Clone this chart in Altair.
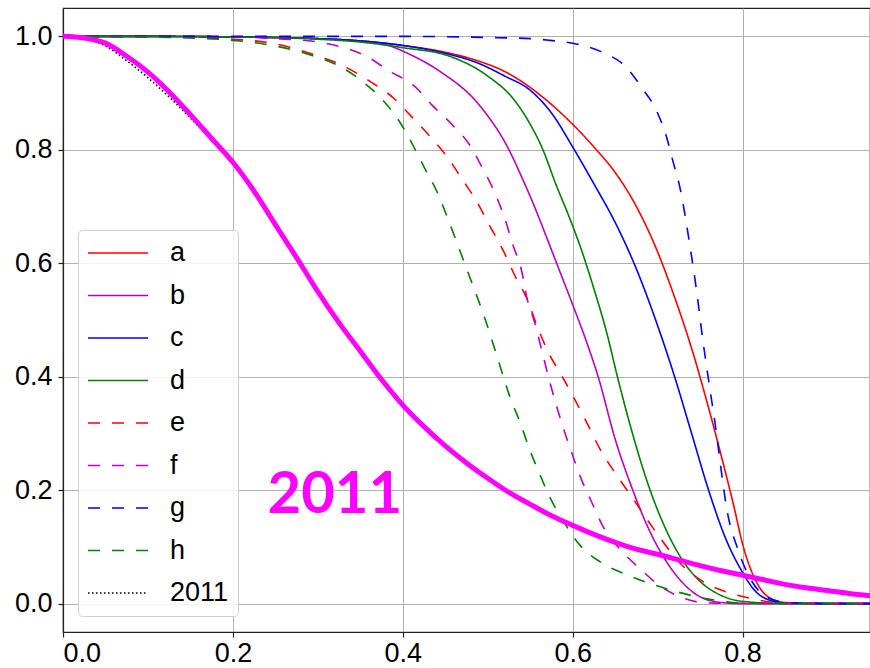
import altair as alt
import pandas as pd

# ---------------- data ----------------
x_a = [0, 0.1, 0.2, 0.3, 0.35, 0.4, 0.45, 0.49, 0.52, 0.55, 0.575, 0.6, 0.625, 0.65, 0.675, 0.7, 0.72, 0.74, 0.76, 0.775, 0.79, 0.8, 0.815, 0.83, 0.85, 0.9, 0.95]
y_a = [1.0, 1.0, 0.999, 0.996, 0.992, 0.984, 0.972, 0.956, 0.938, 0.91, 0.88, 0.845, 0.805, 0.76, 0.70, 0.62, 0.54, 0.45, 0.345, 0.26, 0.17, 0.105, 0.042, 0.012, 0.002, 0.0, 0.0]

x_b = [0, 0.1, 0.2, 0.3, 0.34, 0.376, 0.41, 0.445, 0.49, 0.525, 0.54, 0.555, 0.57, 0.585, 0.6, 0.615, 0.63, 0.65, 0.67, 0.69, 0.71, 0.73, 0.75, 0.775, 0.8, 0.95]
y_b = [1.0, 1.0, 0.999, 0.996, 0.993, 0.987, 0.967, 0.937, 0.879, 0.80, 0.752, 0.70, 0.643, 0.585, 0.527, 0.467, 0.40, 0.29, 0.203, 0.13, 0.075, 0.036, 0.012, 0.002, 0.0, 0.0]

x_c = [0, 0.1, 0.2, 0.3, 0.35, 0.4, 0.45, 0.49, 0.52, 0.55, 0.575, 0.6, 0.625, 0.65, 0.675, 0.7, 0.72, 0.74, 0.76, 0.78, 0.8, 0.815, 0.83, 0.85, 0.9, 0.95]
y_c = [1.0, 1.0, 0.999, 0.996, 0.992, 0.984, 0.97, 0.952, 0.93, 0.905, 0.865, 0.805, 0.74, 0.672, 0.59, 0.49, 0.40, 0.30, 0.20, 0.115, 0.055, 0.022, 0.007, 0.001, 0.0, 0.0]

x_d = [0, 0.1, 0.2, 0.3, 0.35, 0.4, 0.455, 0.5, 0.53, 0.55, 0.565, 0.58, 0.595, 0.61, 0.625, 0.64, 0.653, 0.67, 0.69, 0.71, 0.73, 0.75, 0.77, 0.8, 0.85, 0.95]
y_d = [1.0, 1.0, 0.999, 0.995, 0.99, 0.98, 0.965, 0.93, 0.89, 0.845, 0.80, 0.74, 0.685, 0.625, 0.555, 0.478, 0.398, 0.302, 0.205, 0.13, 0.075, 0.039, 0.018, 0.004, 0.0, 0.0]

x_e = [0, 0.05, 0.1, 0.15, 0.2, 0.25, 0.28, 0.335, 0.36, 0.39, 0.41, 0.43, 0.45, 0.47, 0.487, 0.502, 0.518, 0.532, 0.546, 0.558, 0.571, 0.587, 0.6, 0.616, 0.632, 0.652, 0.671, 0.7, 0.726, 0.758, 0.78, 0.81, 0.84, 0.95]
y_e = [1.0, 1.0, 0.999, 0.998, 0.995, 0.987, 0.975, 0.944, 0.922, 0.89, 0.859, 0.827, 0.792, 0.748, 0.709, 0.667, 0.623, 0.578, 0.538, 0.49, 0.444, 0.402, 0.367, 0.321, 0.273, 0.226, 0.185, 0.122, 0.072, 0.035, 0.021, 0.009, 0.002, 0.0]

x_f = [0, 0.1, 0.2, 0.25, 0.3, 0.326, 0.357, 0.385, 0.414, 0.435, 0.459, 0.479, 0.494, 0.506, 0.52, 0.53, 0.54, 0.546, 0.555, 0.563, 0.575, 0.588, 0.6, 0.61, 0.622, 0.635, 0.655, 0.679, 0.702, 0.73, 0.76, 0.95]
y_f = [1.0, 1.0, 0.999, 0.996, 0.99, 0.982, 0.965, 0.938, 0.912, 0.878, 0.843, 0.808, 0.767, 0.732, 0.679, 0.631, 0.586, 0.54, 0.497, 0.45, 0.38, 0.314, 0.261, 0.22, 0.18, 0.138, 0.097, 0.062, 0.032, 0.01, 0.001, 0.0]

x_g = [0, 0.1, 0.2, 0.3, 0.4, 0.5, 0.55, 0.573, 0.6, 0.632, 0.664, 0.682, 0.699, 0.711, 0.718, 0.726, 0.738, 0.746, 0.753, 0.761, 0.769, 0.775, 0.782, 0.793, 0.805, 0.82, 0.84, 0.86, 0.95]
y_g = [1.0, 1.0, 1.0, 1.0, 1.0, 0.998, 0.996, 0.993, 0.988, 0.974, 0.944, 0.908, 0.868, 0.82, 0.78, 0.735, 0.631, 0.55, 0.467, 0.384, 0.303, 0.233, 0.162, 0.102, 0.056, 0.021, 0.005, 0.001, 0.0]

x_h = [0, 0.05, 0.1, 0.15, 0.2, 0.25, 0.294, 0.326, 0.353, 0.375, 0.396, 0.412, 0.426, 0.44, 0.453, 0.465, 0.475, 0.487, 0.498, 0.508, 0.518, 0.526, 0.538, 0.549, 0.561, 0.573, 0.588, 0.608, 0.632, 0.66, 0.69, 0.72, 0.76, 0.8, 0.95]
y_h = [1.0, 1.0, 0.999, 0.997, 0.993, 0.983, 0.966, 0.947, 0.92, 0.89, 0.85, 0.808, 0.767, 0.727, 0.679, 0.631, 0.591, 0.543, 0.497, 0.45, 0.402, 0.365, 0.32, 0.273, 0.229, 0.188, 0.148, 0.104, 0.074, 0.053, 0.036, 0.022, 0.008, 0.001, 0.0]

x_2011 = [0, 0.025, 0.05, 0.075, 0.1, 0.125, 0.15, 0.175, 0.2, 0.225, 0.25, 0.275, 0.3, 0.325, 0.35, 0.375, 0.4, 0.425, 0.45, 0.475, 0.5, 0.525, 0.55, 0.575, 0.6, 0.625, 0.65, 0.675, 0.7, 0.725, 0.75, 0.775, 0.8, 0.825, 0.85, 0.875, 0.9, 0.925, 0.95]
y_2011 = [1.0, 0.996, 0.983, 0.957, 0.927, 0.893, 0.856, 0.817, 0.776, 0.727, 0.668, 0.61, 0.55, 0.495, 0.445, 0.395, 0.35, 0.311, 0.277, 0.247, 0.22, 0.195, 0.174, 0.154, 0.136, 0.12, 0.106, 0.094, 0.085, 0.075, 0.066, 0.057, 0.049, 0.041, 0.034, 0.028, 0.023, 0.018, 0.014]

x_fit = [0, 0.025, 0.05, 0.075, 0.1, 0.125, 0.15, 0.175, 0.2, 0.225, 0.25, 0.275, 0.3, 0.325, 0.35, 0.375, 0.4, 0.425, 0.45, 0.475, 0.5, 0.525, 0.55, 0.575, 0.6, 0.625, 0.65, 0.675, 0.7, 0.725, 0.75, 0.775, 0.8, 0.825, 0.85, 0.875, 0.9, 0.925, 0.95]
y_fit = [1.0, 0.997, 0.988, 0.965, 0.937, 0.902, 0.862, 0.82, 0.778, 0.727, 0.668, 0.61, 0.55, 0.495, 0.445, 0.395, 0.35, 0.312, 0.278, 0.248, 0.221, 0.196, 0.175, 0.155, 0.138, 0.122, 0.108, 0.096, 0.087, 0.077, 0.067, 0.058, 0.05, 0.042, 0.034, 0.028, 0.023, 0.018, 0.014]

series_names = ["a", "b", "c", "d", "e", "f", "g", "h", "2011"]
series_colors = ["#ff0000", "#bf00bf", "#0000ff", "#008000",
                 "#ff0000", "#bf00bf", "#0000ff", "#008000", "#000000"]
series_dashes = [[1, 0], [1, 0], [1, 0], [1, 0],
                 [12, 12], [12, 12], [12, 12], [12, 12], [1.5, 2.5]]

label_text = ["2011"]
label_x = [0.32]
label_y = [0.16]

x_ticks = [0.0, 0.2, 0.4, 0.6, 0.8]
y_ticks = [0.0, 0.2, 0.4, 0.6, 0.8, 1.0]

# ---------------- tables ----------------
series_xy = [(x_a, y_a), (x_b, y_b), (x_c, y_c), (x_d, y_d), (x_e, y_e),
             (x_f, y_f), (x_g, y_g), (x_h, y_h), (x_2011, y_2011)]
rows = []
for name, (xs, ys) in zip(series_names, series_xy):
    for xv, yv in zip(xs, ys):
        rows.append({"x": xv, "y": yv, "series": name})
df = pd.DataFrame(rows)
fit_df = pd.DataFrame({"x": x_fit, "y": y_fit})
label_df = pd.DataFrame({"x": label_x, "y": label_y, "t": label_text})

FONT = "Liberation Sans"
xscale = alt.Scale(domain=[0, 0.95], nice=False, zero=False)
yscale = alt.Scale(domain=[-0.05, 1.05], nice=False, zero=False)

axis_style = dict(
    labelFont=FONT, labelFontSize=27, labelColor="black",
    tickColor="#222222", tickSize=5, tickWidth=1.2,
    domainColor="#222222", domainWidth=1.2,
    grid=True, gridColor="#b0b0b0", gridWidth=1,
    title=None,
)
xaxis = alt.Axis(values=x_ticks, format=".1f", labelPadding=3, **axis_style)
yaxis = alt.Axis(values=y_ticks, format=".1f", labelPadding=6, **axis_style)

legend_kw = dict(
    orient="none", legendX=15, legendY=222, title=None,
    symbolType="stroke", symbolSize=3600, symbolStrokeWidth=1.6,
    labelFont=FONT, labelFontSize=27, labelColor="black", labelOffset=21,
    padding=9, rowPadding=14.5, clipHeight=28,
    fillColor="rgba(255,255,255,0.85)",
    strokeColor="#d0d0d0", cornerRadius=4,
)

lines = alt.Chart(df).mark_line(strokeWidth=1.6, clip=True, interpolate="monotone").encode(
    x=alt.X("x:Q", scale=xscale, axis=xaxis),
    y=alt.Y("y:Q", scale=yscale, axis=yaxis),
    color=alt.Color("series:N", scale=alt.Scale(domain=series_names, range=series_colors),
                    legend=alt.Legend(**legend_kw)),
    strokeDash=alt.StrokeDash("series:N", scale=alt.Scale(domain=series_names, range=series_dashes),
                              legend=alt.Legend(**legend_kw)),
    order=alt.Order("x:Q"),
)

fit = alt.Chart(fit_df).mark_line(color="#ff00ff", strokeWidth=5, clip=True, interpolate="monotone").encode(
    x=alt.X("x:Q", scale=xscale),
    y=alt.Y("y:Q", scale=yscale),
)

label = alt.Chart(label_df).mark_text(
    font="Lato", fontWeight="bold", fontSize=58, color="#ff00ff",
    align="center", baseline="alphabetic",
).encode(
    x=alt.X("x:Q", scale=xscale),
    y=alt.Y("y:Q", scale=yscale),
    text="t:N",
)

chart = alt.layer(lines, fit, label).properties(
    width=807, height=624,
    padding={"left": 63, "top": 8, "right": 0, "bottom": 36},
    autosize=alt.AutoSizeParams(type="none"),
    background="white",
).configure_view(
    stroke="#222222", strokeWidth=1.2,
)

chart.save("out.html", embed_options={"renderer": "svg", "actions": False})
